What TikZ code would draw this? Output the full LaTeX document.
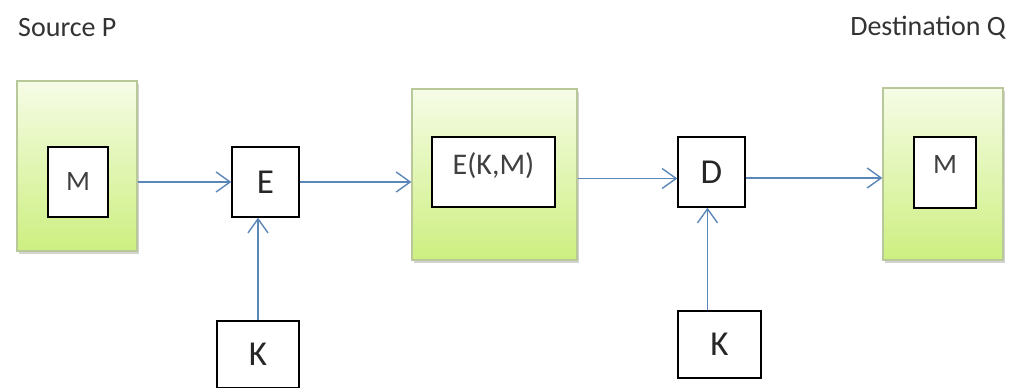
\documentclass[tikz,border=0pt]{standalone}
\usepackage{fontspec}
\setmainfont{Carlito}
\usetikzlibrary{positioning,arrows.meta,shadows}
\definecolor{arrowblue}{HTML}{5B87B8}
\definecolor{greenedge}{HTML}{B8C898}
\definecolor{greentop}{HTML}{F6FCE6}
\definecolor{greenbot}{HTML}{CDEF80}
\tikzstyle{panel} = [draw=greenedge, line width=1.3pt, top color=greentop, bottom color=greenbot, drop shadow={shadow xshift=1.5pt,shadow yshift=-3pt,opacity=0.35}]
\tikzstyle{block} = [draw, fill=white, line width=1.4pt, inner sep=0pt, text depth=0pt, font=\fontsize{35}{40}\selectfont, text=black!85]
\tikzstyle{msg} = [block, font=\fontsize{28}{32}\selectfont, text=black!75]
\tikzstyle{to} = [-{Straight Barb[length=14pt,width=20pt]}, draw=arrowblue, line width=1.4pt]
\tikzstyle{caption} = [font=\fontsize{28}{32}\selectfont, text=black!80, inner sep=0pt]

\begin{document}
\begin{tikzpicture}[x=1pt,y=1pt]
	\useasboundingbox (0,0) rectangle (1012,388);
	\node (srcp) [caption,anchor=west] at (18,360) {Source P};
	\node (dstq) [caption,anchor=east] at (1006,360) {Destination Q};
	% source side
	\node (g1) [panel,minimum width=120pt,minimum height=170pt] at (77,222) {};
	\node (m1) [msg,minimum width=60pt,minimum height=70pt,text height=17pt] at (78,206) {M};
	\node (e) [block,minimum width=67pt,minimum height=70pt] at (265.5,206) {E};
	\node (k1) [block,minimum width=82pt,minimum height=67pt] at (258,33.5) {K};
	% cipher text
	\node (g2) [panel,minimum width=165pt,minimum height=171pt] at (494.5,213.5) {};
	\node (ekm) [msg,font=\fontsize{30}{34}\selectfont,minimum width=123pt,minimum height=70pt,text height=20pt,text depth=14pt] at (493.5,216) {E(K,M)};
	% destination side
	\node (d) [block,minimum width=67pt,minimum height=70pt] at (711.5,216) {D};
	\node (k2) [block,minimum width=83pt,minimum height=67pt] at (719.5,43.5) {K};
	\node (g3) [panel,minimum width=120pt,minimum height=172pt] at (943,214) {};
	\node (m3) [msg,minimum width=62pt,minimum height=71pt,text height=17pt,text depth=14pt] at (945,215.5) {M};
	%
	\draw[to] (m1.east -| g1.east) -- (e.west);
	\draw[to] (e.east) -- (e.east -| g2.west);
	\draw[to] ([yshift=-4pt]g2.east) -- ([yshift=-4pt]g2.east -| d.west);
	\draw[to] ([yshift=-6pt]d.east) -- ([yshift=-6pt]d.east -| g3.west);
	\draw[to] (k1.north) -- (k1.north |- e.south);
	\draw[to] ([xshift=-12pt]k2.north) -- ([xshift=-12pt]k2.north |- d.south);
\end{tikzpicture}
\end{document}
